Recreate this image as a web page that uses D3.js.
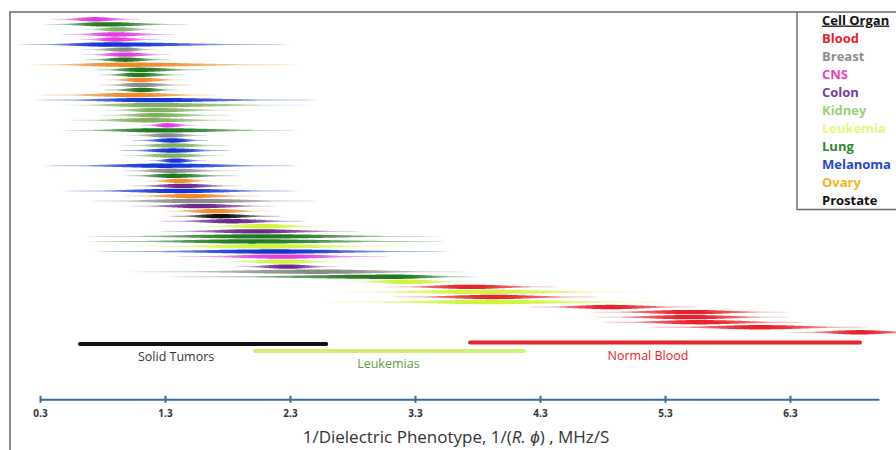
<!DOCTYPE html>
<html><head><meta charset="utf-8">
<script src="https://cdn.jsdelivr.net/npm/d3@7"></script>
<style>body{margin:0;background:#fff}svg{display:block}</style>
</head><body>
<svg id="c" width="896" height="450"></svg>
<script>
// ---------- DATA ----------
const organs = ["Blood","Breast","CNS","Colon","Kidney","Leukemia","Lung","Melanoma","Ovary","Prostate"];
const markColors = ["#e8232a","#8a8a8a","#e03ce0","#6a2a8c","#7fb060","#d0f53a","#1f7a1f","#1233d8","#f08a28","#111111"];
const legendColors = ["#e8232a","#8c8c8c","#ee3fbf","#6f3fa3","#9bd177","#e6f77e","#2f8a2a","#1e48d0","#f2b520","#111111"];

// one entry per spindle, top to bottom
const rowOrgan = ["CNS","Lung","Kidney","CNS","CNS","Melanoma","Breast","CNS","Lung","Ovary",
  "Lung","Lung","Ovary","Breast","Lung","Ovary","Melanoma","Kidney","Kidney","Kidney",
  "Kidney","CNS","Lung","Breast","Melanoma","Kidney","Melanoma","Kidney","Melanoma","Melanoma",
  "Breast","Lung","Ovary","Colon","Melanoma","Ovary","Breast","Colon","Ovary","Prostate",
  "Colon","Leukemia","Colon","Lung","Lung","Leukemia","Melanoma","CNS","Leukemia","Colon",
  "Breast","Lung","Leukemia","Blood","Leukemia","Blood","Leukemia","Blood","Blood","Blood",
  "Blood","Blood","Blood"];
const rowLo = [0.38,0.32,0.62,0.46,0.60,0.12,0.62,0.62,0.64,0.20,
  0.72,0.76,0.80,0.76,0.80,0.28,0.24,0.46,0.78,0.76,
  0.52,1.10,0.46,0.98,1.02,0.94,0.92,0.94,1.16,0.32,
  0.94,0.96,1.12,1.00,0.48,0.96,0.68,1.00,1.26,1.32,
  1.24,1.48,1.24,0.64,0.68,1.00,0.72,1.36,1.68,1.84,
  1.00,1.32,2.70,3.04,2.64,3.10,2.54,4.20,4.68,4.70,
  4.78,5.16,6.28];
const rowPeak = [0.74,0.82,0.92,0.90,0.90,0.86,0.98,0.98,0.98,0.98,
  1.10,1.08,1.10,1.10,1.12,1.06,1.18,1.18,1.22,1.22,
  1.18,1.32,1.26,1.32,1.36,1.36,1.36,1.36,1.38,1.30,
  1.34,1.36,1.42,1.44,1.42,1.50,1.54,1.58,1.70,1.74,
  1.84,2.08,2.02,2.08,1.98,2.12,2.18,2.24,2.24,2.28,
  2.54,3.14,3.22,3.74,3.82,3.92,3.90,4.86,5.50,5.50,
  5.58,6.06,6.86];
const rowHi = [1.12,1.50,1.26,1.40,1.28,2.30,1.24,1.36,1.36,2.38,
  1.64,1.48,1.48,1.52,1.42,1.74,2.54,2.48,1.90,1.84,
  1.90,1.56,2.36,1.66,1.66,1.82,1.84,1.80,1.64,2.38,
  1.90,1.90,1.70,1.92,2.38,2.08,2.54,2.20,2.16,2.24,
  2.44,2.64,2.88,3.52,3.56,3.28,3.60,3.12,2.78,2.70,
  3.74,3.82,3.82,4.46,5.16,4.78,5.36,5.58,6.30,6.32,
  6.44,6.94,7.40];

const tickValues = [0.3,1.3,2.3,3.3,4.3,5.3,6.3];
const groupNames = ["Solid Tumors","Leukemias","Normal Blood"];
const groupStart = [0.62,2.02,3.74];
const groupEnd = [2.59,4.17,6.86];

// ---------- STYLE / LAYOUT ----------
const groupBarColor = ["#111111","#d3ef78","#e8232a"];
const groupLabelColor = ["#333333","#5c9e3e","#e8232a"];
const groupBarY = [344, 351, 342.5];
const groupLabelY = [356.5, 363.5, 356];

const svg = d3.select("#c");
const W = 896, H = 450;
const x = d3.scaleLinear().domain([0.3, 7.012]).range([40, 879]);
const y = d3.scalePoint().domain(d3.range(rowOrgan.length)).range([19.3, 332.3]);
const color = d3.scaleOrdinal().domain(organs).range(markColors);
const lcolor = d3.scaleOrdinal().domain(organs).range(legendColors);

const defs = svg.append("defs");
defs.append("filter").attr("id","soft").attr("x","-5%").attr("y","-50%").attr("width","110%").attr("height","200%")
  .append("feGaussianBlur").attr("stdDeviation","0.7 0.35");

// spindles
const N = 80, HH = 2.2;
const gS = svg.append("g").attr("filter","url(#soft)");
rowOrgan.forEach((o,i)=>{
  const lo=rowLo[i], pk=rowPeak[i], hi=rowHi[i];
  const sL=(pk-lo)/2.6, sR=(hi-pk)/2.6;
  const pts=d3.range(N+1).map(k=>{
    const v=lo+(hi-lo)*k/N, d=v-pk, s=d<0?sL:sR;
    return {v, g:Math.exp(-0.5*(d/s)*(d/s)), k};
  });
  const gid="gr"+i;
  const grad=defs.append("linearGradient").attr("id",gid).attr("gradientUnits","userSpaceOnUse")
    .attr("x1",x(lo)).attr("x2",x(hi)).attr("y1",0).attr("y2",0);
  pts.filter(p=>p.k%4===0).forEach(p=>{
    const op=(p.k===0||p.k===N)?0:Math.min(1,0.06+0.95*Math.pow(p.g,0.6));
    grad.append("stop").attr("offset",p.k/N).attr("stop-color",color(o)).attr("stop-opacity",op);
  });
  const yc=y(i);
  const area=d3.area().x(p=>x(p.v))
    .y0(p=>yc-Math.max(0.45,HH*p.g)).y1(p=>yc+Math.max(0.45,HH*p.g))
    .curve(d3.curveBasis);
  gS.append("path").attr("d",area(pts)).attr("fill","url(#"+gid+")");
});

// frame
svg.append("path").attr("d",`M10,${H} L10,12 L${W},12`).attr("fill","none").attr("stroke","#6a6a6a").attr("stroke-width",1.6);
// legend box
svg.append("path").attr("d",`M797,12 L797,209.5 L${W},209.5`).attr("fill","none").attr("stroke","#6a6a6a").attr("stroke-width",1.4);
const lg = svg.append("g").attr("font-family","'Open Sans', sans-serif").attr("font-weight","bold").attr("font-size","13px");
lg.append("text").attr("x",822).attr("y",20).attr("dy","0.35em").attr("fill","#111")
  .attr("text-decoration","underline").text("Cell Organ");
organs.forEach((o,i)=>{
  lg.append("text").attr("x",822).attr("y",38+i*18.1).attr("dy","0.35em").attr("fill",lcolor(o)).text(o);
});

// group bars
groupNames.forEach((n,i)=>{
  svg.append("line").attr("x1",x(groupStart[i])).attr("x2",x(groupEnd[i]))
    .attr("y1",groupBarY[i]).attr("y2",groupBarY[i])
    .attr("stroke",groupBarColor[i]).attr("stroke-width",4).attr("stroke-linecap","round");
  svg.append("text").attr("x",(x(groupStart[i])+x(groupEnd[i]))/2 + (i===0?-27:(i===1?-1:-17)))
    .attr("y",groupLabelY[i]).attr("dy","0.35em").attr("text-anchor","middle")
    .attr("font-family","'Open Sans', sans-serif").attr("font-size","12.5px").attr("fill",groupLabelColor[i]).text(n);
});

// axis
const axY = 399.3;
const ax = svg.append("g").attr("transform",`translate(0,${axY})`)
  .call(d3.axisBottom(x).tickValues(tickValues).tickFormat(d3.format(".1f")).tickSizeOuter(0).tickSizeInner(3).tickPadding(8));
ax.select(".domain").attr("stroke","#3d6a9e").attr("stroke-width",2);
ax.selectAll(".tick line").attr("stroke","#3d6a9e").attr("stroke-width",2).attr("y1",-3.5).attr("y2",3.5);
ax.selectAll(".tick text").attr("fill","#333").attr("font-family","'Open Sans', sans-serif")
  .attr("font-weight","bold").attr("font-size","10px");

const t = svg.append("text").attr("x",456).attr("y",437).attr("dy","0.35em").attr("text-anchor","middle")
  .attr("font-family","'Open Sans', sans-serif").attr("font-size","17px").attr("fill","#333");
t.append("tspan").text("1/Dielectric Phenotype, 1/(");
t.append("tspan").attr("font-style","italic").text("R.");
t.append("tspan").text(" ");
t.append("tspan").attr("font-style","italic").text("ϕ");
t.append("tspan").text(") , MHz/S");
</script>
</body></html>
